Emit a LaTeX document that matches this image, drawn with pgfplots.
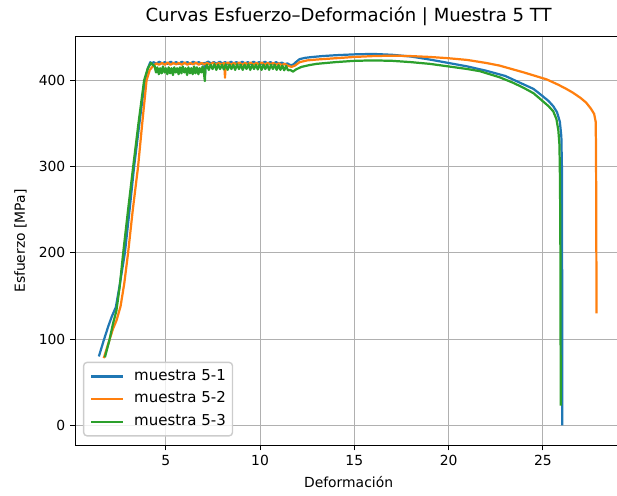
\documentclass[border=0pt]{standalone}
\usepackage{pgfplots}
\pgfplotsset{compat=1.18}
\usepackage{fontspec}
\setmainfont{DejaVu Sans}
\definecolor{cA}{HTML}{1F77B4}
\definecolor{cB}{HTML}{FF7F0E}
\definecolor{cC}{HTML}{2CA02C}
\definecolor{gridgray}{HTML}{B0B0B0}
\begin{document}
\begin{tikzpicture}
\begin{axis}[
  scale only axis, width=393.5bp, height=294.4bp,
  xmin=0.199, xmax=29.19, ymin=-23.3, ymax=450.5,
  axis line style={line width=0.8bp, black},
  xtick={5,10,15,20,25}, ytick={0,100,200,300,400},
  tick align=outside, xtick pos=bottom, ytick pos=left,
  major tick length=3.5bp,
  every tick/.style={black, line width=0.8bp},
  grid=major, major grid style={gridgray, line width=0.8bp},
  /pgf/number format/assume math mode=true,
  tick label style={font=\fontsize{10bp}{12bp}\selectfont},
  xticklabel style={inner sep=0pt, anchor=north, yshift=-3.5bp},
  yticklabel style={inner sep=0pt, anchor=east, xshift=-3.5bp},
  xlabel={Deformación}, ylabel={Esfuerzo [MPa]},
  label style={font=\fontsize{10bp}{12bp}\selectfont},
  xlabel style={at={(axis description cs:0.5,0)}, anchor=north, inner sep=0pt, yshift=-21.8bp},
  ylabel style={at={(axis description cs:-0.0884,0.5)}, anchor=south, inner sep=0pt, rotate=0},
  title={Curvas Esfuerzo–Deformación | Muestra 5 TT},
  title style={at={(axis description cs:0.5,1)}, anchor=south, inner sep=0pt, yshift=1.5bp, font=\fontsize{13bp}{15bp}\selectfont},
  legend cell align=left,
  legend image code/.code={\draw[#1, line width=1.6bp] (0bp,0bp) -- (22.8bp,0bp);},
  legend style={at={(axis description cs:0,0)}, anchor=south west, xshift=5.5bp, yshift=6.5bp,
    draw=black!20, line width=1bp, rounded corners=2.5bp, fill=white, fill opacity=0.8, text opacity=1,
    inner xsep=4.8bp, inner ysep=3.9bp, row sep=3.8bp, column sep=7.2bp,
    font=\fontsize{10.8bp}{13bp}\selectfont,
    nodes={inner xsep=0bp, inner ysep=1bp, text height=8bp, text depth=2.5bp}},
  every axis plot/.append style={line width=1.6bp, line join=round},
]
\addplot[cA] coordinates {
(1.45,80)(1.7,98)(1.95,115)(2.15,127)(2.35,137)(2.55,162)(2.83,200)(3.08,250)(3.32,300)(3.6,350)(3.89,400)(4.05,414)(4.18,421)(4.25,419)
(4.35,421)(4.5,419)(4.65,421.5)(4.8,419.5)(4.95,421)(5.1,419)(5.25,421.5)(5.4,419.5)(5.55,421)(5.7,419)(5.85,421.5)(6.0,419.5)(6.15,421)(6.3,419)(6.45,421.5)(6.6,419.5)(6.75,421)(6.9,419)(7.05,420)(7.08,405)(7.11,420)
(7.25,421.5)(7.4,419.5)(7.55,421)(7.7,419)(7.85,421.5)(8.0,419.5)(8.15,421)(8.3,419)(8.45,421.5)(8.6,419.5)(8.75,421)(8.9,419)(9.05,421.5)(9.2,419.5)(9.35,421)(9.5,419)(9.65,421.5)(9.8,419.5)(9.95,421)(10.1,419)(10.25,421.5)(10.4,419.5)(10.55,421)(10.7,419)(10.85,421)(11.0,419)(11.15,420.5)(11.3,418.5)(11.45,419.5)(11.6,417.5)
(11.75,418)(11.9,421)(12.1,424.5)(12.4,426)(12.8,427)(13.3,428)(14,429)(15,430)(16,430.5)(17,429.5)(18,427.5)(19,424)(20,420)(21,416)(22,411)(23,405)(24,395)(24.5,390)(24.85,384)(25.3,376)(25.55,370)(25.75,363)(25.9,352)(25.98,335)(26.01,300)(26.02,200)(26.03,100)(26.03,0)
};
\addlegendentry{muestra 5-1}
\addplot[cB] coordinates {
(1.71,78)(1.95,95)(2.2,112)(2.39,122)(2.6,138)(2.8,165)(3.0,200)(3.25,250)(3.53,300)(3.75,350)(3.98,400)(4.15,412)(4.35,417)(4.5,419.5)
(4.65,418)(4.8,420)(4.95,418)(5.1,420.5)(5.25,418)(5.4,420)(5.55,418.5)(5.7,420)(5.85,418)(6.0,420.5)(6.15,418)(6.3,420)(6.45,418.5)(6.6,420.5)(6.75,418)(6.9,420)(7.05,418.5)(7.2,420)(7.35,418)(7.5,420.5)(7.65,418)(7.8,420)(7.95,418.5)(8.1,420)(8.14,403)(8.18,419)
(8.3,420.5)(8.45,418)(8.6,420)(8.75,418.5)(8.9,420.5)(9.05,418)(9.2,420)(9.35,418.5)(9.5,420.5)(9.65,418)(9.8,420)(9.95,418.5)(10.1,420.5)(10.25,418)(10.4,420)(10.55,418.5)(10.7,420)(10.85,418)(11.0,419.5)(11.15,417.5)(11.3,419)(11.45,417)
(11.67,415.5)(11.85,417)(12.1,421)(12.5,423)(13,424)(14,425.5)(15,427)(16,428)(17,428.5)(18,428)(19,427)(20,425.5)(21,423.5)(22,420)(22.7,417)(23.43,412.5)(24,409)(24.6,405)(25.2,401)(25.8,395)(26.2,390.5)(26.6,385.5)(27,379.5)(27.3,374)(27.55,367)(27.72,361)(27.8,352)(27.82,320)(27.83,250)(27.84,180)(27.85,130)
};
\addlegendentry{muestra 5-2}
\addplot[cC] coordinates {
(1.77,79)(2.0,98)(2.2,118)(2.38,133)(2.55,160)(2.74,200)(3.0,250)(3.27,300)(3.55,350)(3.85,400)(4.05,414)(4.22,420)(4.35,417)
(4.40,417)(4.48,409)(4.55,415)(4.63,407)(4.70,414)(4.78,408)(4.85,416)(4.93,409)(5.00,414)(5.08,407)(5.15,415)(5.23,408)(5.30,414)(5.38,406)(5.45,415)(5.53,409)(5.60,414)(5.68,407)(5.75,415)(5.83,408)(5.90,416)(5.98,409)(6.05,414)(6.13,406)(6.20,415)(6.28,408)(6.35,414)(6.43,407)(6.50,416)(6.58,408)(6.65,415)(6.73,407)(6.80,414)(6.88,409)(6.95,416)(7.03,407)(7.07,399)(7.10,413)
(7.18,418)(7.28,412)(7.38,418)(7.48,413)(7.58,418.5)(7.68,412)(7.78,418)(7.88,413)(7.98,418)(8.08,412.5)(8.18,418.5)(8.28,412)(8.38,418)(8.48,413)(8.58,418)(8.68,412)(8.78,418.5)(8.88,413)(8.98,418)(9.08,412)(9.18,418)(9.28,413)(9.38,418.5)(9.48,412)(9.58,418)(9.68,413)(9.78,418)(9.88,412.5)(9.98,418.5)(10.08,412)(10.18,418)(10.28,413)(10.38,418)(10.48,412)(10.58,418)(10.68,413)(10.78,418)(10.88,412)(10.98,417.5)(11.08,412)(11.18,417)(11.28,411.5)(11.38,416.5)(11.48,411.5)
(11.6,412)(11.75,410)(11.9,412.5)(12.2,415.5)(12.6,417.5)(13,419)(14,421)(15,422.5)(16,423)(17,422.5)(18,421)(19,419)(20,416)(21,413)(21.66,410.5)(22.7,403.5)(23.43,397)(24,391)(24.5,385)(24.85,378.5)(25.3,370)(25.55,364)(25.72,355)(25.82,342)(25.88,325)(25.91,280)(25.93,200)(25.94,100)(25.95,23)
};
\addlegendentry{muestra 5-3}
\coordinate (SW) at (rel axis cs:0,0);
\coordinate (NW) at (rel axis cs:0,1);
\end{axis}
\pgfresetboundingbox
\useasboundingbox ([shift={(-54.2bp,-35.6bp)}]SW) rectangle ([shift={(390.0bp,26.4bp)}]NW);
\end{tikzpicture}
\end{document}
